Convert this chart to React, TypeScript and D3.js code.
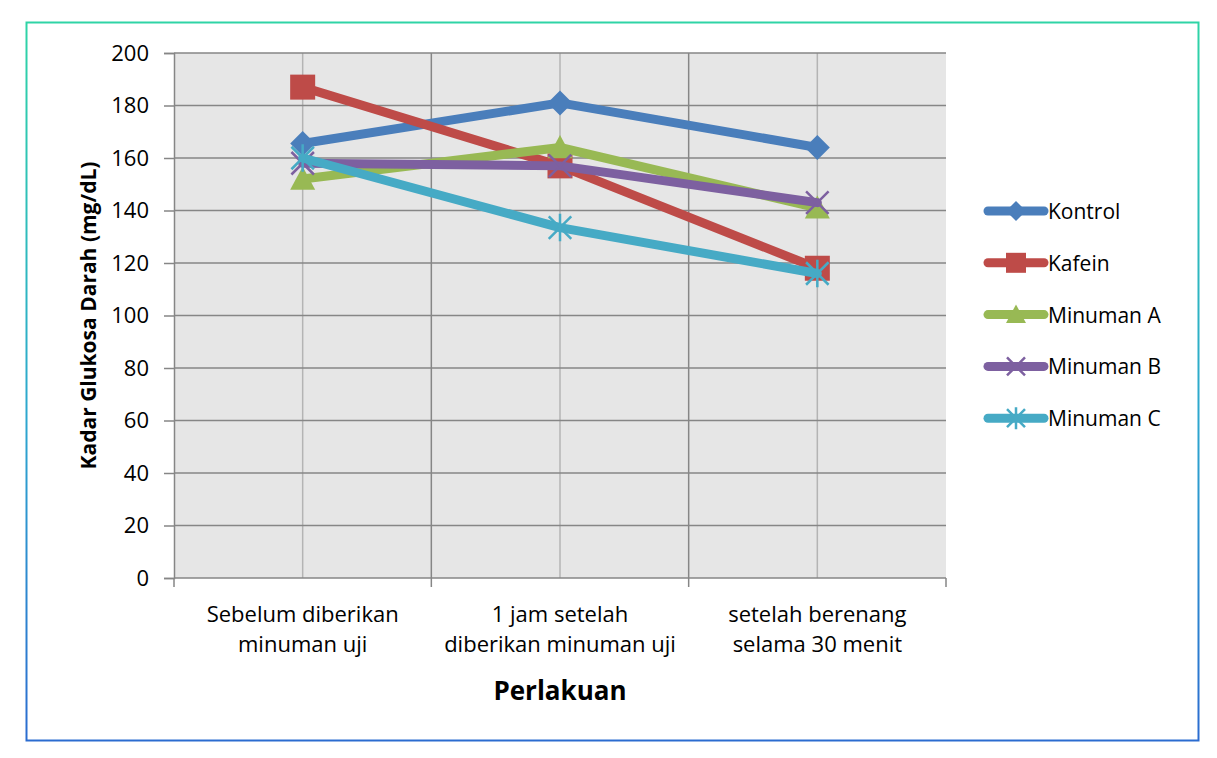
import React, { useRef, useEffect } from "react";
import * as d3 from "d3";

// Data
const categories = ["Sebelum diberikan\nminuman uji", "1 jam setelah\ndiberikan minuman uji", "setelah berenang\nselama 30 menit"];
const seriesNames = ["Kontrol", "Kafein", "Minuman A", "Minuman B", "Minuman C"];
const kontrol = [165.5, 181, 164];
const kafein = [187, 157, 118];
const minumanA = [152, 164, 141];
const minumanB = [158, 157, 143];
const minumanC = [160, 133.5, 116];
const yTicks = [0, 20, 40, 60, 80, 100, 120, 140, 160, 180, 200];

const colors = ["#4a7ebb", "#be4b48", "#98b954", "#7d60a0", "#46aac5"];
const markers = ["diamond", "square", "triangle", "x", "star"];

const FONT = "'Open Sans', 'Noto Sans', sans-serif";

export default function App() {
    const svgRef = useRef<SVGSVGElement>(null);

    useEffect(() => {
        if (!svgRef.current) return;
        const svg = d3.select(svgRef.current);
        svg.selectAll("*").remove();

        const W = 1217, H = 758;
        const left = 174, right = 946, top = 53, bottom = 578;

        // Border gradient
        const defs = svg.append("defs");
        const grad = defs.append("linearGradient")
            .attr("id", "borderGrad")
            .attr("x1", "0%").attr("y1", "0%")
            .attr("x2", "0%").attr("y2", "100%");
        grad.append("stop").attr("offset", "0%").attr("stop-color", "#2fd4a6");
        grad.append("stop").attr("offset", "55%").attr("stop-color", "#2ea7cf");
        grad.append("stop").attr("offset", "100%").attr("stop-color", "#2b6cd0");

        svg.append("rect").attr("width", W).attr("height", H).attr("fill", "#fff");
        svg.append("rect")
            .attr("x", 26.5).attr("y", 22.5)
            .attr("width", 1172).attr("height", 718)
            .attr("fill", "#fff")
            .attr("stroke", "url(#borderGrad)")
            .attr("stroke-width", 2);

        const x = d3.scaleBand<string>().domain(categories).range([left, right]);
        const cx = (i: number) => (x(categories[i]) as number) + x.bandwidth() / 2;
        const y = d3.scaleLinear().domain([0, 200]).range([bottom, top]);

        // Plot background
        svg.append("rect")
            .attr("x", left).attr("y", top)
            .attr("width", right - left).attr("height", bottom - top)
            .attr("fill", "#e6e6e6");

        // Light vertical gridlines at category centres
        categories.forEach((c, i) => {
            svg.append("line")
                .attr("x1", cx(i)).attr("x2", cx(i))
                .attr("y1", top).attr("y2", bottom)
                .attr("stroke", "#b4b4b4").attr("stroke-width", 1.5);
        });
        // Darker vertical gridlines at category boundaries
        categories.slice(1).forEach(c => {
            const bx = x(c) as number;
            svg.append("line")
                .attr("x1", bx).attr("x2", bx)
                .attr("y1", top).attr("y2", bottom)
                .attr("stroke", "#868686").attr("stroke-width", 1.5);
        });
        // Horizontal gridlines
        yTicks.slice(1).forEach(t => {
            svg.append("line")
                .attr("x1", left).attr("x2", right)
                .attr("y1", y(t)).attr("y2", y(t))
                .attr("stroke", "#868686").attr("stroke-width", 1.5);
        });

        // Y axis
        const yAxis = svg.append("g")
            .attr("transform", `translate(${left},0)`)
            .call(d3.axisLeft(y).tickValues(yTicks).tickSize(10).tickPadding(15));
        yAxis.select(".domain").attr("stroke", "#868686").attr("stroke-width", 1.5);
        yAxis.selectAll(".tick line").attr("stroke", "#868686").attr("stroke-width", 1.5);
        yAxis.selectAll(".tick text")
            .attr("fill", "#000").attr("font-size", "22px").attr("font-family", FONT);

        // X axis
        svg.append("line")
            .attr("x1", left).attr("x2", right)
            .attr("y1", bottom).attr("y2", bottom)
            .attr("stroke", "#868686").attr("stroke-width", 1.5);
        const bounds = [...categories.map(c => x(c) as number), right];
        bounds.forEach(bx => {
            svg.append("line")
                .attr("x1", bx).attr("x2", bx)
                .attr("y1", bottom).attr("y2", bottom + 9)
                .attr("stroke", "#868686").attr("stroke-width", 1.5);
        });
        categories.forEach((c, i) => {
            const t = svg.append("text")
                .attr("x", cx(i)).attr("y", 622)
                .attr("text-anchor", "middle")
                .attr("font-family", FONT).attr("font-size", "22px")
                .attr("fill", "#000");
            c.split("\n").forEach((line, j) => {
                t.append("tspan").attr("x", cx(i)).attr("dy", j === 0 ? 0 : 30).text(line);
            });
        });

        // Axis titles
        svg.append("text")
            .attr("transform", `translate(96,${(top + bottom) / 2}) rotate(-90)`)
            .attr("text-anchor", "middle")
            .attr("font-family", FONT).attr("font-size", "21px").attr("font-weight", "bold")
            .text("Kadar Glukosa Darah (mg/dL)");
        svg.append("text")
            .attr("x", (left + right) / 2).attr("y", 700)
            .attr("text-anchor", "middle")
            .attr("font-family", FONT).attr("font-size", "26px").attr("font-weight", "bold")
            .text("Perlakuan");

        const drawMarker = (g: any, kind: string, color: string, px: number, py: number, r: number) => {
            if (kind === "diamond") {
                g.append("path").attr("d", `M${px},${py - r}L${px + r},${py}L${px},${py + r}L${px - r},${py}Z`).attr("fill", color);
            } else if (kind === "square") {
                g.append("rect").attr("x", px - r).attr("y", py - r).attr("width", 2 * r).attr("height", 2 * r).attr("fill", color);
            } else if (kind === "triangle") {
                g.append("path").attr("d", `M${px},${py - r}L${px + r},${py + r * 0.85}L${px - r},${py + r * 0.85}Z`).attr("fill", color);
            } else if (kind === "x") {
                const a = r * 0.9;
                g.append("path").attr("d", `M${px - a},${py - a}L${px + a},${py + a}M${px + a},${py - a}L${px - a},${py + a}`)
                    .attr("stroke", color).attr("stroke-width", 2.5);
            } else {
                const a = r * 0.9;
                g.append("path").attr("d", `M${px - a},${py - a}L${px + a},${py + a}M${px + a},${py - a}L${px - a},${py + a}M${px},${py - r * 1.1}L${px},${py + r * 1.1}`)
                    .attr("stroke", color).attr("stroke-width", 2.5);
            }
        };

        const allSeries = [kontrol, kafein, minumanA, minumanB, minumanC];
        const line = d3.line<number>().x((d, i) => cx(i)).y(d => y(d));

        allSeries.forEach((vals, s) => {
            const g = svg.append("g");
            g.append("path")
                .datum(vals)
                .attr("fill", "none")
                .attr("stroke", colors[s])
                .attr("stroke-width", 9)
                .attr("stroke-linejoin", "round")
                .attr("stroke-linecap", "round")
                .attr("d", line);
            vals.forEach((v, i) => drawMarker(g, markers[s], colors[s], cx(i), y(v), 12.5));
        });

        // Legend
        const legend = svg.append("g");
        seriesNames.forEach((name, s) => {
            const ly = 211 + s * 51.8;
            const row = legend.append("g");
            row.append("line")
                .attr("x1", 988).attr("x2", 1044)
                .attr("y1", ly).attr("y2", ly)
                .attr("stroke", colors[s]).attr("stroke-width", 9)
                .attr("stroke-linecap", "round");
            drawMarker(row, markers[s], colors[s], 1016, ly, 10);
            row.append("text")
                .attr("x", 1048).attr("y", ly + 8)
                .attr("font-family", FONT).attr("font-size", "21px")
                .text(name);
        });
    }, []);

    return (
        <svg ref={svgRef} width={1217} height={758}
            style={{ position: "absolute", left: 0, top: 0, display: "block" }} />
    );
}
